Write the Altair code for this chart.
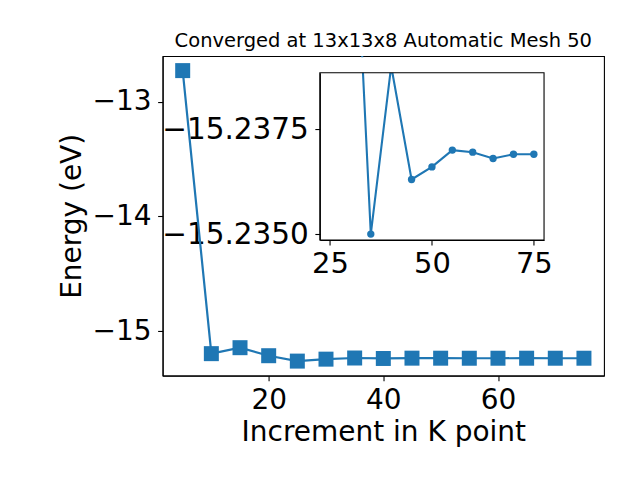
import altair as alt
import pandas as pd

# ---------------- data ----------------
k_points = [5, 10, 15, 20, 25, 30, 35, 40, 45, 50, 55, 60, 65, 70, 75]
energy = [-12.729, -15.197, -15.145, -15.215, -15.262, -15.245, -15.2350,
          -15.2390, -15.2363, -15.2366, -15.2370, -15.23695, -15.2368,
          -15.2369, -15.2369]
inset_from = 25
main_x_ticks = [20, 40, 60]
main_y_ticks = [-15, -14, -13]
inset_x_ticks = [25, 50, 75]
inset_y_ticks = [-15.2375, -15.2350]
inset_y_limits = [-15.23884, -15.23486]   # top (more negative) .. bottom
title_text = "Converged at 13x13x8 Automatic Mesh 50"
x_title = "Increment in K point"
y_title = "Energy (eV)"

BLUE = "#1f77b4"
FONT = "DejaVu Sans"
W, H = 441.6, 319.7

df = pd.DataFrame({"k": k_points, "e": energy})
inset_df = df[df["k"] >= inset_from]

# matplotlib-like 5% margins
xr = max(k_points) - min(k_points)
main_x_dom = [min(k_points) - 0.05 * xr, max(k_points) + 0.05 * xr]
yr = max(energy) - min(energy)
main_y_dom = [min(energy) - 0.05 * yr, max(energy) + 0.05 * yr]
ixr = max(inset_df["k"]) - min(inset_df["k"])
inset_x_dom = [min(inset_df["k"]) - 0.05 * ixr, max(inset_df["k"]) + 0.05 * ixr]

# inset placement inside the plot area (pixels)
inset_x_range = [157.3, 381.6]
inset_y_range = [16.7, 184.0]

# ---------------- main axes ----------------
mx = alt.X("k:Q", scale=alt.Scale(domain=main_x_dom, nice=False, zero=False),
           axis=alt.Axis(values=main_x_ticks, title=x_title, labelPadding=5.5,
                         titleY=65.3, titleBaseline="alphabetic", format="d"))
my = alt.Y("e:Q", scale=alt.Scale(domain=main_y_dom, nice=False, zero=False),
           axis=alt.Axis(values=main_y_ticks, title=y_title, labelPadding=6.5,
                         format="d", titleX=-81.7, titleY=H / 2,
                         titleAngle=270, titleBaseline="alphabetic",
                         titleAlign="center"))

main_line = alt.Chart(df).mark_line(color=BLUE, strokeWidth=2.2).encode(x=mx, y=my)
main_pts = alt.Chart(df).mark_point(shape="square", filled=True, size=225,
                                    opacity=1, color=BLUE).encode(x=mx, y=my)
main = alt.layer(main_line, main_pts)

# ---------------- inset ----------------
ix_scale = alt.Scale(domain=inset_x_dom, range=inset_x_range, nice=False, zero=False)
iy_scale = alt.Scale(domain=inset_y_limits, range=inset_y_range, nice=False, zero=False)
ix_axis = alt.Axis(orient="bottom", offset=-(H - inset_y_range[1]),
                   values=inset_x_ticks, title=None, labelPadding=5.0,
                   format="d", labelFontSize=29)
iy_axis = alt.Axis(orient="left", offset=-inset_x_range[0],
                   values=inset_y_ticks, title=None, format=".4f",
                   labelPadding=6.5, labelFontSize=29.5)

ix = alt.X("k:Q", scale=ix_scale, axis=ix_axis)
iy = alt.Y("e:Q", scale=iy_scale, axis=iy_axis)

inset_line = alt.Chart(inset_df).mark_line(color=BLUE, strokeWidth=2.1,
                                           clip=True).encode(x=ix, y=iy)
inset_pts = alt.Chart(inset_df).mark_circle(color=BLUE, size=54, opacity=1,
                                            clip=True).encode(x=ix, y=iy)

one = pd.DataFrame({"a": [0]})
mask = alt.Chart(one).mark_rect(color="white", clip=True).encode(
    x=alt.XDatum(inset_x_dom[0], scale=ix_scale, axis=ix_axis),
    x2=alt.X2Datum(inset_x_dom[1]),
    y=alt.YDatum(inset_y_limits[0], scale=iy_scale, axis=iy_axis),
    y2=alt.value(1.2),
)
frame = alt.Chart(one).mark_rect(fillOpacity=0, stroke="black",
                                 strokeWidth=1.1).encode(
    x=alt.XDatum(inset_x_dom[0], scale=ix_scale, axis=ix_axis),
    x2=alt.X2Datum(inset_x_dom[1]),
    y=alt.YDatum(inset_y_limits[0], scale=iy_scale, axis=iy_axis),
    y2=alt.Y2Datum(inset_y_limits[1]),
)
inset = alt.layer(inset_line, inset_pts, mask, frame)

chart = alt.layer(main, inset).resolve_scale(
    x="independent", y="independent"
).resolve_axis(
    x="independent", y="independent"
).properties(
    width=W, height=H,
    title=alt.TitleParams(title_text, font=FONT, fontSize=19.5,
                          fontWeight="normal", color="black",
                          anchor="middle", frame="group",
                          baseline="alphabetic", offset=7.7, dy=18),
    autosize=alt.AutoSizeParams(type="none"),
    padding={"left": 154.7, "top": 48, "right": 28, "bottom": 96},
).configure_view(
    stroke="black", strokeWidth=1.1
).configure_axis(
    labelFont=FONT, labelFontSize=28, labelColor="black",
    titleFont=FONT, titleFontSize=28, titleFontWeight="normal",
    titleColor="black", tickColor="black", domainColor="black",
    tickSize=5, tickWidth=1.1, domainWidth=1.1, grid=False,
    labelFlush=False, labelOverlap=False,
)

chart.save("out.html", embed_options={"renderer": "svg", "actions": False})
